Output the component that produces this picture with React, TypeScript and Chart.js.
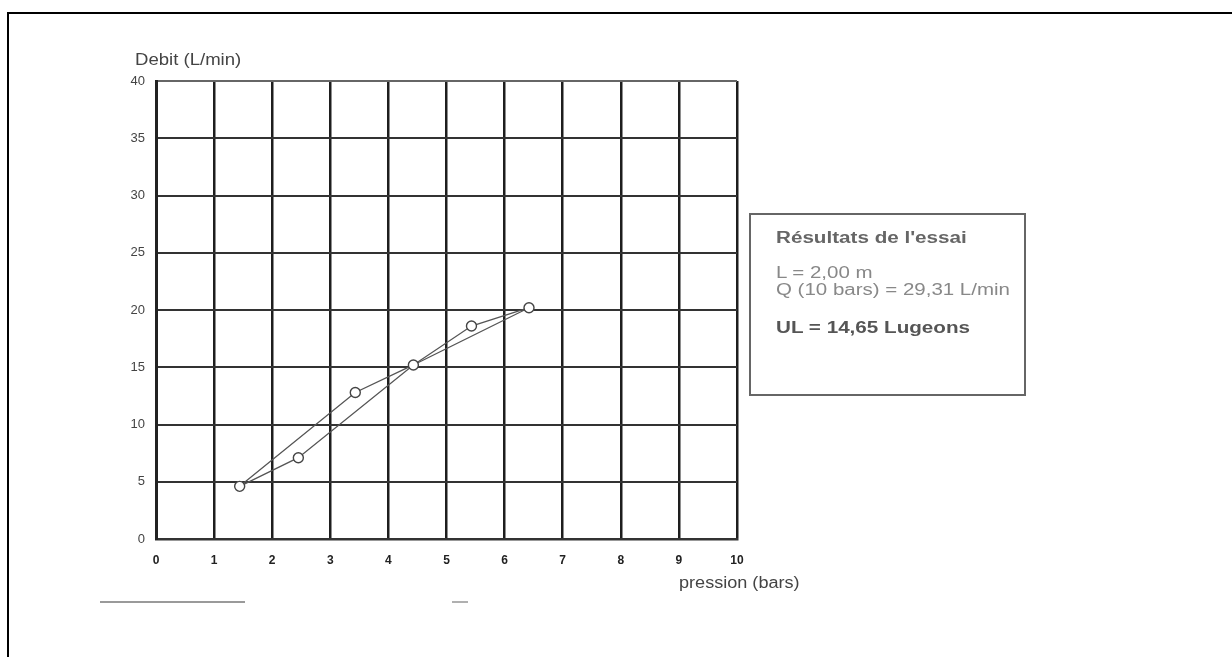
import React, { useEffect, useRef } from "react";
import { Chart, registerables } from "chart.js";

Chart.register(...registerables);

// Measured points (pressure in bars, flow in L/min)
const pressionMesures = [1.44, 2.45, 3.43, 4.43, 5.43, 6.42];
const debitMesures = [4.6, 7.1, 12.8, 15.2, 18.6, 20.2];

// Rising pressure path
const pressionMontee = [1.44, 2.45, 4.43, 6.42];
const debitMontee = [4.6, 7.1, 15.2, 20.2];

// Falling pressure path
const pressionDescente = [6.42, 5.43, 4.43, 3.43, 1.44];
const debitDescente = [20.2, 18.6, 15.2, 12.8, 4.6];

const xTicks = [0, 1, 2, 3, 4, 5, 6, 7, 8, 9, 10];
const yTicks = [0, 5, 10, 15, 20, 25, 30, 35, 40];

const xAxisTitle = "pression (bars)";
const yAxisTitle = "Debit (L/min)";
const resultTitle = "Résultats de l'essai";
const resultLines = ["L = 2,00 m", "Q (10 bars) = 29,31 L/min"];
const resultFinal = "UL = 14,65 Lugeons";

const FONT = "'Liberation Sans', Arial, sans-serif";

const toXY = (xs: number[], ys: number[]) => xs.map((x, i) => ({ x, y: ys[i] }));

export default function App() {
  const canvasRef = useRef<HTMLCanvasElement | null>(null);

  useEffect(() => {
    const canvas = canvasRef.current;
    if (!canvas) return;
    const chart = new Chart(canvas, {
      type: "scatter",
      data: {
        datasets: [
          {
            label: "points",
            data: toXY(pressionMesures, debitMesures),
            showLine: false,
            pointRadius: 5,
            pointBackgroundColor: "#ffffff",
            pointBorderColor: "#444444",
            pointBorderWidth: 1.4,
            order: 0,
          },
          {
            label: "montee",
            data: toXY(pressionMontee, debitMontee),
            showLine: true,
            borderColor: "#555555",
            borderWidth: 1.3,
            pointRadius: 0,
            order: 1,
          },
          {
            label: "descente",
            data: toXY(pressionDescente, debitDescente),
            showLine: true,
            borderColor: "#555555",
            borderWidth: 1.3,
            pointRadius: 0,
            order: 1,
          },
        ],
      },
      options: {
        animation: false,
        responsive: false,
        devicePixelRatio: 1,
        layout: { padding: { left: 100, top: 81, right: 495, bottom: 78 } },
        plugins: {
          legend: { display: false },
          tooltip: { enabled: false },
          title: { display: false },
        },
        scales: {
          x: {
            type: "linear",
            min: 0,
            max: 10,
            afterFit: (scale: any) => {
              scale.height = 40;
            },
            afterBuildTicks: (scale: any) => {
              scale.ticks = xTicks.map((v) => ({ value: v }));
            },
            ticks: {
              padding: 14,
              color: "#222222",
              font: { family: FONT, size: 12, weight: "bold" },
            },
            grid: {
              drawTicks: false,
              color: "#1e1e1e",
              lineWidth: 2.5,
            },
            border: { display: true, color: "#333333", width: 2.5 },
          },
          y: {
            type: "linear",
            min: 0,
            max: 40,
            afterFit: (scale: any) => {
              scale.width = 56;
            },
            afterBuildTicks: (scale: any) => {
              scale.ticks = yTicks.map((v) => ({ value: v }));
            },
            ticks: {
              padding: 11,
              color: "#444444",
              font: { family: FONT, size: 13 },
            },
            grid: {
              drawTicks: false,
              color: (ctx: any) => (ctx.tick && ctx.tick.value === 40 ? "#666666" : "#333333"),
              lineWidth: 2,
            },
            border: { display: true, color: "#222222", width: 3 },
          },
        },
      },
    });
    return () => chart.destroy();
  }, []);

  const stretch = (s: number): React.CSSProperties => ({
    transform: `scaleX(${s})`,
    transformOrigin: "left top",
    whiteSpace: "nowrap",
  });

  return (
    <div
      style={{
        position: "fixed",
        left: 0,
        top: 0,
        width: 1232,
        height: 657,
        overflow: "hidden",
        background: "#ffffff",
        fontFamily: FONT,
      }}
    >
      <div
        style={{
          position: "absolute",
          left: 7,
          top: 12,
          width: 1300,
          height: 760,
          border: "2px solid #000000",
          boxSizing: "border-box",
        }}
      />
      <canvas
        ref={canvasRef}
        width={1232}
        height={657}
        style={{ position: "absolute", left: 0, top: 0, width: 1232, height: 657 }}
      />
      <div
        style={{
          position: "absolute",
          left: 135,
          top: 52,
          fontSize: 16,
          lineHeight: "16px",
          color: "#444444",
          ...stretch(1.16),
        }}
      >
        {yAxisTitle}
      </div>
      <div
        style={{
          position: "absolute",
          left: 679,
          top: 575,
          fontSize: 16,
          lineHeight: "16px",
          color: "#444444",
          ...stretch(1.13),
        }}
      >
        {xAxisTitle}
      </div>
      <div
        style={{
          position: "absolute",
          left: 749,
          top: 213,
          width: 277,
          height: 183,
          border: "2px solid #666666",
          boxSizing: "border-box",
        }}
      />
      <div
        style={{
          position: "absolute",
          left: 776,
          top: 230,
          fontSize: 16,
          lineHeight: "16px",
          fontWeight: "bold",
          color: "#666666",
          ...stretch(1.29),
        }}
      >
        {resultTitle}
      </div>
      <div
        style={{
          position: "absolute",
          left: 776,
          top: 265,
          fontSize: 16,
          lineHeight: "16.5px",
          color: "#888888",
          ...stretch(1.28),
        }}
      >
        {resultLines.map((t, i) => (
          <div key={i}>{t}</div>
        ))}
      </div>
      <div
        style={{
          position: "absolute",
          left: 776,
          top: 320,
          fontSize: 16,
          lineHeight: "16px",
          fontWeight: "bold",
          color: "#555555",
          ...stretch(1.29),
        }}
      >
        {resultFinal}
      </div>
      <div
        style={{
          position: "absolute",
          left: 100,
          top: 601,
          width: 145,
          height: 2,
          background: "#9a9a9a",
        }}
      />
      <div
        style={{
          position: "absolute",
          left: 452,
          top: 601,
          width: 16,
          height: 2,
          background: "#b0b0b0",
        }}
      />
    </div>
  );
}
